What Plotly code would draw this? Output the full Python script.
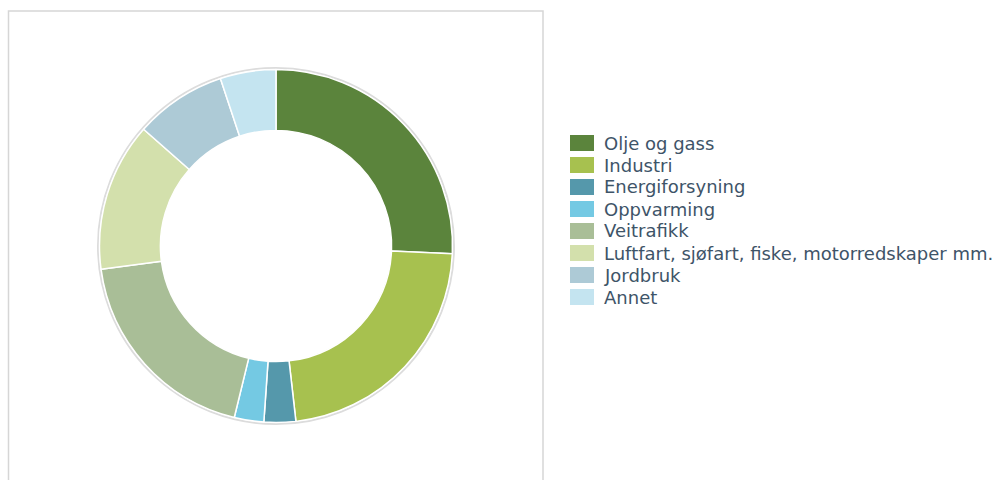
import plotly.graph_objects as go

# Emission shares by source (percent)
categories = [
    "Olje og gass",
    "Industri",
    "Energiforsyning",
    "Oppvarming",
    "Veitrafikk",
    "Luftfart, sjøfart, fiske, motorredskaper mm.",
    "Jordbruk",
    "Annet",
]
shares = [25.7, 22.5, 2.9, 2.7, 19.1, 13.6, 8.4, 5.1]
colors = [
    "#5b843c",
    "#a7c14f",
    "#5598ab",
    "#74c9e3",
    "#a9be97",
    "#d3e0ac",
    "#adcad6",
    "#c4e4f0",
]

W, H = 1000, 480
cx, cy, r_out = 276, 246, 176.5

fig = go.Figure(
    go.Pie(
        labels=categories,
        values=shares,
        marker=dict(colors=colors, line=dict(color="white", width=1.5)),
        hole=0.655,
        sort=False,
        direction="clockwise",
        rotation=0,
        textinfo="none",
        hoverinfo="label+percent",
        showlegend=False,
        domain=dict(
            x=[(cx - r_out) / W, (cx + r_out) / W],
            y=[(H - cy - r_out) / H, (H - cy + r_out) / H],
        ),
    )
)

shapes = [
    # frame around the chart area
    dict(
        type="rect", xref="paper", yref="paper",
        x0=8.5 / W, x1=543 / W, y0=-0.1, y1=(H - 11) / H,
        line=dict(color="#d6d6d6", width=1.5), fillcolor="rgba(0,0,0,0)",
        layer="below",
    ),
    # soft rim around the ring
    dict(
        type="circle", xref="paper", yref="paper",
        x0=(cx - r_out - 1.5) / W, x1=(cx + r_out + 1.5) / W,
        y0=(H - cy - r_out - 1.5) / H, y1=(H - cy + r_out + 1.5) / H,
        line=dict(color="#dcdcdc", width=2), layer="below",
    ),
]

annotations = []
row0, step = 143, 22
for i, (name, col) in enumerate(zip(categories, colors)):
    yc = row0 + i * step
    shapes.append(
        dict(
            type="rect", xref="paper", yref="paper",
            x0=570 / W, x1=594 / W,
            y0=(H - yc - 8) / H, y1=(H - yc + 8) / H,
            fillcolor=col, line=dict(width=0),
        )
    )
    annotations.append(
        dict(
            x=602 / W, y=(H - yc) / H, xref="paper", yref="paper",
            text=name, showarrow=False, xanchor="left", yanchor="middle",
            font=dict(family="DejaVu Sans", size=18, color="#3e5468"),
        )
    )

fig.update_layout(
    width=W, height=H,
    margin=dict(l=0, r=0, t=0, b=0),
    paper_bgcolor="white",
    plot_bgcolor="white",
    shapes=shapes,
    annotations=annotations,
)

fig.write_html("out.html")
